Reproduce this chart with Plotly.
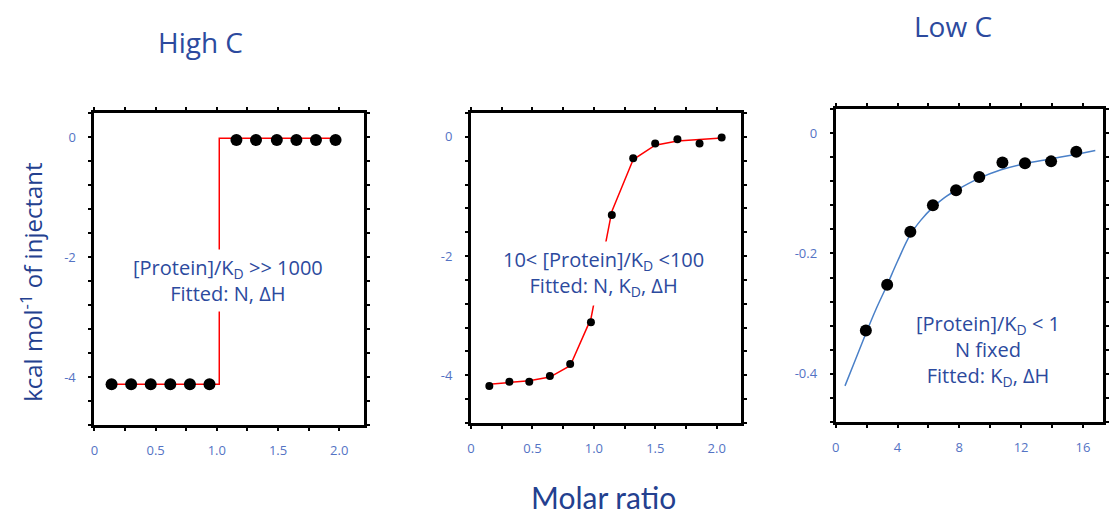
import plotly.graph_objects as go

# ---------------- data ----------------
# Panel 1 (High C)
hc_x = [0.14, 0.30, 0.46, 0.62, 0.78, 0.94, 1.16, 1.32, 1.49, 1.65, 1.81, 1.97]
hc_y = [-4.12, -4.12, -4.12, -4.12, -4.12, -4.12, -0.05, -0.05, -0.05, -0.05, -0.05, -0.05]
hc_fit_x = [0.10, 1.02, 1.02, 1.99]
hc_fit_y = [-4.12, -4.12, -0.02, -0.02]

# Panel 2 (intermediate C)
mc_x = [0.149, 0.312, 0.474, 0.642, 0.807, 0.976, 1.146, 1.32, 1.499, 1.68, 1.86, 2.04]
mc_y = [-4.18, -4.11, -4.11, -4.01, -3.81, -3.11, -1.31, -0.36, -0.11, -0.04, -0.11, -0.01]
mc_fit_y = [-4.15, -4.12, -4.09, -4.03, -3.84, -3.05, -1.25, -0.38, -0.14, -0.07, -0.04, -0.02]

# Panel 3 (Low C)
lc_x = [1.95, 3.33, 4.83, 6.29, 7.79, 9.29, 10.79, 12.25, 13.94, 15.57]
lc_y = [-0.328, -0.252, -0.164, -0.120, -0.095, -0.073, -0.049, -0.050, -0.047, -0.031]
lc_fit_x = [0.6, 1.3, 1.95, 2.6, 3.3, 4.0, 4.8, 5.5, 6.3, 7.0, 7.8, 9.2, 10.7, 12.2, 13.9, 15.6, 16.8]
lc_fit_y = [-0.42, -0.375, -0.333, -0.293, -0.254, -0.213, -0.170, -0.145, -0.123, -0.108,
            -0.095, -0.076, -0.061, -0.051, -0.043, -0.035, -0.029]

# tick labels
mr_tickvals = [0, 0.5, 1.0, 1.5, 2.0]
mr_ticktext = ["0", "0.5", "1.0", "1.5", "2.0"]
kc_tickvals = [0, -2, -4]
kc_ticktext = ["0", "-2", "-4"]
lc_xtickvals = [0, 4, 8, 12, 16]
lc_xticktext = ["0", "4", "8", "12", "16"]
lc_ytickvals = [0, -0.2, -0.4]
lc_yticktext = ["0", "-0.2", "-0.4"]

TEXT_BLUE = "#2c4a9e"
TICK_BLUE = "#5473c4"
FONT = "Open Sans"

fig = go.Figure()

# Panel 1
fig.add_trace(go.Scatter(x=hc_fit_x, y=hc_fit_y, mode="lines",
                         line=dict(color="#ff0000", width=1.5), xaxis="x", yaxis="y"))
fig.add_trace(go.Scatter(x=hc_x, y=hc_y, mode="markers",
                         marker=dict(color="black", size=12), xaxis="x", yaxis="y"))
# Panel 2
fig.add_trace(go.Scatter(x=mc_x, y=mc_fit_y, mode="lines",
                         line=dict(color="#ff0000", width=1.5), xaxis="x2", yaxis="y2"))
fig.add_trace(go.Scatter(x=mc_x, y=mc_y, mode="markers",
                         marker=dict(color="black", size=8), xaxis="x2", yaxis="y2"))
# Panel 3
fig.add_trace(go.Scatter(x=lc_fit_x, y=lc_fit_y, mode="lines", line_shape="spline",
                         line=dict(color="#4a80c8", width=1.5), xaxis="x3", yaxis="y3"))
fig.add_trace(go.Scatter(x=lc_x, y=lc_y, mode="markers",
                         marker=dict(color="black", size=12), xaxis="x3", yaxis="y3"))

W, H = 1109, 515


def dx(a, b):
    return [a / W, b / W]


def dy(top, bottom):
    return [1 - bottom / H, 1 - top / H]


def mnr(d):
    return dict(dtick=d, tick0=0, ticks="outside", ticklen=3, tickwidth=2, tickcolor="black")


common = dict(showline=True, linecolor="black", linewidth=3, mirror="ticks",
              ticks="outside", ticklen=3, tickwidth=2, tickcolor="black",
              showgrid=False, zeroline=False, tickmode="array",
              tickfont=dict(family=FONT, size=13, color=TICK_BLUE))

fig.update_layout(
    width=W, height=H, margin=dict(l=0, r=0, t=0, b=0),
    paper_bgcolor="white", plot_bgcolor="white", showlegend=False,
    xaxis=dict(domain=dx(91, 362), range=[0, 2.2], tickvals=mr_tickvals, ticktext=mr_ticktext,
               anchor="y", minor=mnr(0.25), ticklabelstandoff=8, **common),
    yaxis=dict(domain=dy(113, 425), range=[-4.8, 0.4], tickvals=kc_tickvals, ticktext=kc_ticktext,
               anchor="x", minor=mnr(0.4), ticklabelstandoff=10, **common),
    xaxis2=dict(domain=dx(470, 742), range=[0, 2.2], tickvals=mr_tickvals, ticktext=mr_ticktext,
                anchor="y2", minor=mnr(0.25), ticklabelstandoff=8, **common),
    yaxis2=dict(domain=dy(113, 423), range=[-4.8, 0.4], tickvals=kc_tickvals, ticktext=kc_ticktext,
                anchor="x2", minor=mnr(0.4), ticklabelstandoff=10, **common),
    xaxis3=dict(domain=dx(837, 1106), range=[0, 17.3], tickvals=lc_xtickvals, ticktext=lc_xticktext,
                anchor="y3", minor=mnr(2), ticklabelstandoff=8, **common),
    yaxis3=dict(domain=dy(109, 422), range=[-0.48, 0.04], tickvals=lc_ytickvals, ticktext=lc_yticktext,
                anchor="x3", minor=mnr(0.04), ticklabelstandoff=10, **common),
)


def ann(x, y, text, size, color=TEXT_BLUE, family=FONT, **kw):
    fig.add_annotation(x=x / W, y=1 - y / H, xref="paper", yref="paper", text=text,
                       xanchor="center", yanchor="middle", showarrow=False, align="center",
                       font=dict(family=family, size=size, color=color), **kw)


ann(225, 280, "[Protein]/K<sub>D</sub> &gt;&gt; 1000<br>Fitted: N, ΔH", 20,
    bgcolor="white", borderpad=4)
ann(603, 273, "10&lt; [Protein]/K<sub>D</sub> &lt;100<br>Fitted: N, K<sub>D</sub>, ΔH", 20,
    bgcolor="white", borderpad=4)
ann(990, 350, "[Protein]/K<sub>D</sub> &lt; 1<br>N fixed<br>Fitted: K<sub>D</sub>, ΔH", 20)

# titles
ann(198, 42, "High C", 28)
ann(955, 26, "Low C", 28)
ann(603, 497, "Molar ratio", 30, color="#23408f", family="Lato")
ann(27, 282, "kcal mol<sup>-1</sup> of injectant", 24, color="#23408f", textangle=-90)

fig.write_html("out.html", config={"displayModeBar": False},
               post_script="document.body.style.margin='0px';")
